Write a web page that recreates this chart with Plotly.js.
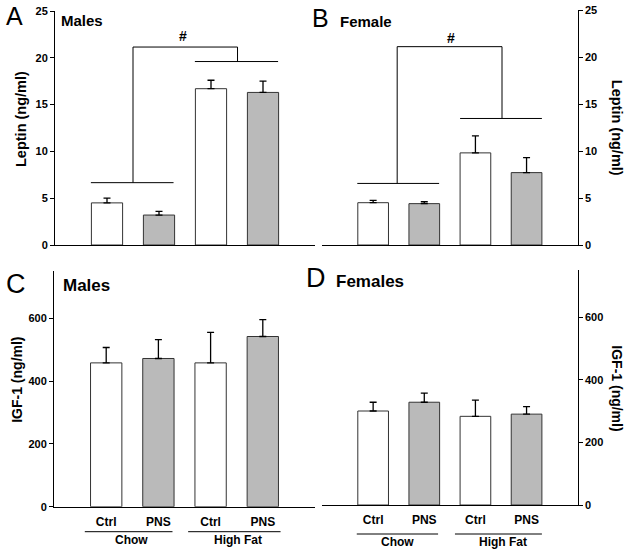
<!DOCTYPE html>
<html>
<head>
<meta charset="utf-8">
<script src="https://cdn.plot.ly/plotly-3.0.1.min.js"></script>
<style>html,body{margin:0;padding:0;background:#fff;}#chart{width:627px;height:552px;}</style>
</head>
<body>
<div id="chart"></div>
<script>
// ---- data ----
const groups = ["Chow", "Chow", "High Fat", "High Fat"];
const treatments = ["Ctrl", "PNS", "Ctrl", "PNS"];
const leptinMales = [4.5, 3.2, 16.7, 16.3];
const leptinMalesErr = [0.5, 0.4, 0.9, 1.2];
const leptinFemales = [4.5, 4.4, 9.8, 7.7];
const leptinFemalesErr = [0.25, 0.2, 1.8, 1.6];
const igfMales = [458, 472, 458, 542];
const igfMalesErr = [49, 60, 97, 54];
const igfFemales = [300, 328, 283, 290];
const igfFemalesErr = [28, 29, 52, 24];

const categories = groups.map((g, i) => g + " " + treatments[i]);
const barColors = treatments.map(t => t === "Ctrl" ? "#ffffff" : "#bababa");

const W = 627, H = 552;
const fx = p => p / W;
const fy = p => 1 - p / H;
const FONT = "Liberation Sans, Arial, Helvetica, sans-serif";

function barTrace(vals, errs, xa, ya) {
  return {
    type: "bar", x: categories, y: vals, xaxis: xa, yaxis: ya,
    width: 0.6,
    marker: {color: barColors, line: {color: "#333333", width: 1}},
    error_y: {type: "data", symmetric: false, array: errs, arrayminus: errs.map(() => 0),
              color: "#000000", thickness: 1.3, width: 3.5},
    hoverinfo: "none"
  };
}

const data = [
  barTrace(leptinMales, leptinMalesErr, "x", "y"),
  barTrace(leptinFemales, leptinFemalesErr, "x2", "y2"),
  barTrace(igfMales, igfMalesErr, "x3", "y3"),
  barTrace(igfFemales, igfFemalesErr, "x4", "y4")
];

function xax(d0, d1, anchor, labels) {
  return {
    domain: [fx(d0), fx(d1)], anchor: anchor, type: "category",
    categoryorder: "array", categoryarray: categories,
    range: [-1, 4], showline: true, linecolor: "#000", linewidth: 1,
    ticks: "", showgrid: false, zeroline: false, fixedrange: true,
    showticklabels: labels, tickvals: categories, ticktext: treatments,
    tickfont: {family: FONT, size: 12, color: "#000", weight: "bold"},
    ticklabelstandoff: 4
  };
}
function yax(top, bottom, anchor, side, range, dtick, title, pos) {
  return {
    domain: [fy(bottom), fy(top)], anchor: anchor, side: side,
    range: range, dtick: dtick, tick0: 0, showline: true, linecolor: "#000", linewidth: 1,
    ticks: "outside", ticklen: 4, tickwidth: 1, tickcolor: "#000",
    showgrid: false, zeroline: false, fixedrange: true,
    tickfont: {family: FONT, size: 11, color: "#000", weight: "bold"},
    title: {text: ""}
  };
}

const layout = {
  width: W, height: H,
  margin: {l: 0, r: 0, t: 0, b: 0},
  paper_bgcolor: "#fff", plot_bgcolor: "rgba(0,0,0,0)",
  showlegend: false, bargap: 0.4,
  font: {family: FONT, color: "#000"},
  xaxis: xax(55, 315, "y", false),
  yaxis: yax(11, 245, "x", "left", [0, 25], 5),
  xaxis2: xax(322, 577.7, "y2", false),
  yaxis2: yax(10, 245, "x2", "right", [0, 25], 5),
  xaxis3: xax(54, 315, "y3", true),
  yaxis3: yax(271.2, 506.7, "x3", "left", [0, 750], 200),
  xaxis4: xax(322, 577.7, "y4", true),
  yaxis4: yax(270, 505, "x4", "right", [0, 750], 200),
  shapes: [],
  annotations: []
};
// hide tick 800 etc. (range stops at 750 so only 0..600 shown)

const ln = (xref, yref, x0, y0, x1, y1) => ({type: "line", xref, yref, x0, y0, x1, y1,
  line: {color: "#000", width: 1}});

// Brackets panel A
layout.shapes.push(
  ln("x", "y", -0.31, 6.66, 1.28, 6.66),
  ln("x", "y", 0.5, 6.66, 0.5, 21.15),
  ln("x", "y", 0.5, 21.15, 2.51, 21.15),
  ln("x", "y", 2.51, 21.15, 2.51, 19.6),
  ln("x", "y", 1.69, 19.6, 3.29, 19.6)
);
// Brackets panel B
layout.shapes.push(
  ln("x2", "y2", -0.31, 6.55, 1.29, 6.55),
  ln("x2", "y2", 0.47, 6.55, 0.47, 21.1),
  ln("x2", "y2", 0.47, 21.1, 2.52, 21.1),
  ln("x2", "y2", 2.52, 21.1, 2.52, 13.46),
  ln("x2", "y2", 1.70, 13.46, 3.30, 13.46)
);
// group underlines C & D
layout.shapes.push(
  ln("x3", "paper", -0.41, fy(531.7), 1.27, fy(531.7)),
  ln("x3", "paper", 1.57, fy(531.7), 3.34, fy(531.7)),
  ln("x4", "paper", -0.32, fy(534), 1.27, fy(534)),
  ln("x4", "paper", 1.60, fy(534), 3.30, fy(534))
);

function ann(text, x, y, size, bold, xanchor, xref, yref) {
  return {text: text, x: x, y: y, xref: xref || "paper", yref: yref || "paper",
    xanchor: xanchor || "center", yanchor: "middle", showarrow: false,
    font: {family: FONT, size: size, color: "#000", weight: bold ? "bold" : "normal"}};
}
const A = layout.annotations;
A.push(ann("A", fx(14), fy(16), 25, false));
A.push(ann("Males", fx(59), fy(20), 15, true, "left"));
A.push(ann("B", fx(320), fy(18), 25, false));
A.push(ann("Female", fx(338), fy(21.7), 15, true, "left"));
A.push(ann("C", fx(16.3), fy(284), 27, false));
A.push(ann("Males", fx(61), fy(285), 17, true, "left"));
A.push(ann("D", fx(315.8), fy(278.3), 27, false));
A.push(ann("Females", fx(334), fy(281.7), 17, true, "left"));
A.push(ann("#", 1.455, 22.3, 14, true, "center", "x", "y"));
A.push(ann("#", 1.517, 22.0, 14, true, "center", "x2", "y2"));
// group labels
A.push(ann(groups[0], 0.48, fy(539.5), 12, true, "center", "x3"));
A.push(ann(groups[2], 2.53, fy(539.5), 12, true, "center", "x3"));
A.push(ann(groups[0], 0.48, fy(541.7), 12, true, "center", "x4"));
A.push(ann(groups[2], 2.53, fy(541.7), 12, true, "center", "x4"));
// axis titles
const yt = (text, x, y, ang, size) => Object.assign(ann(text, fx(x), fy(y), size, true), {textangle: ang});
A.push(yt("Leptin (ng/ml)", 21, 119, -90, 14.5));
A.push(yt("Leptin (ng/ml)", 616.7, 127.5, 90, 14.5));
A.push(yt("IGF-1 (ng/ml)", 17.5, 380.3, -90, 14));
A.push(yt("IGF-1 (ng/ml)", 617, 388.3, 90, 14));

Plotly.newPlot("chart", data, layout, {displayModeBar: false, staticPlot: true});
</script>
</body>
</html>
